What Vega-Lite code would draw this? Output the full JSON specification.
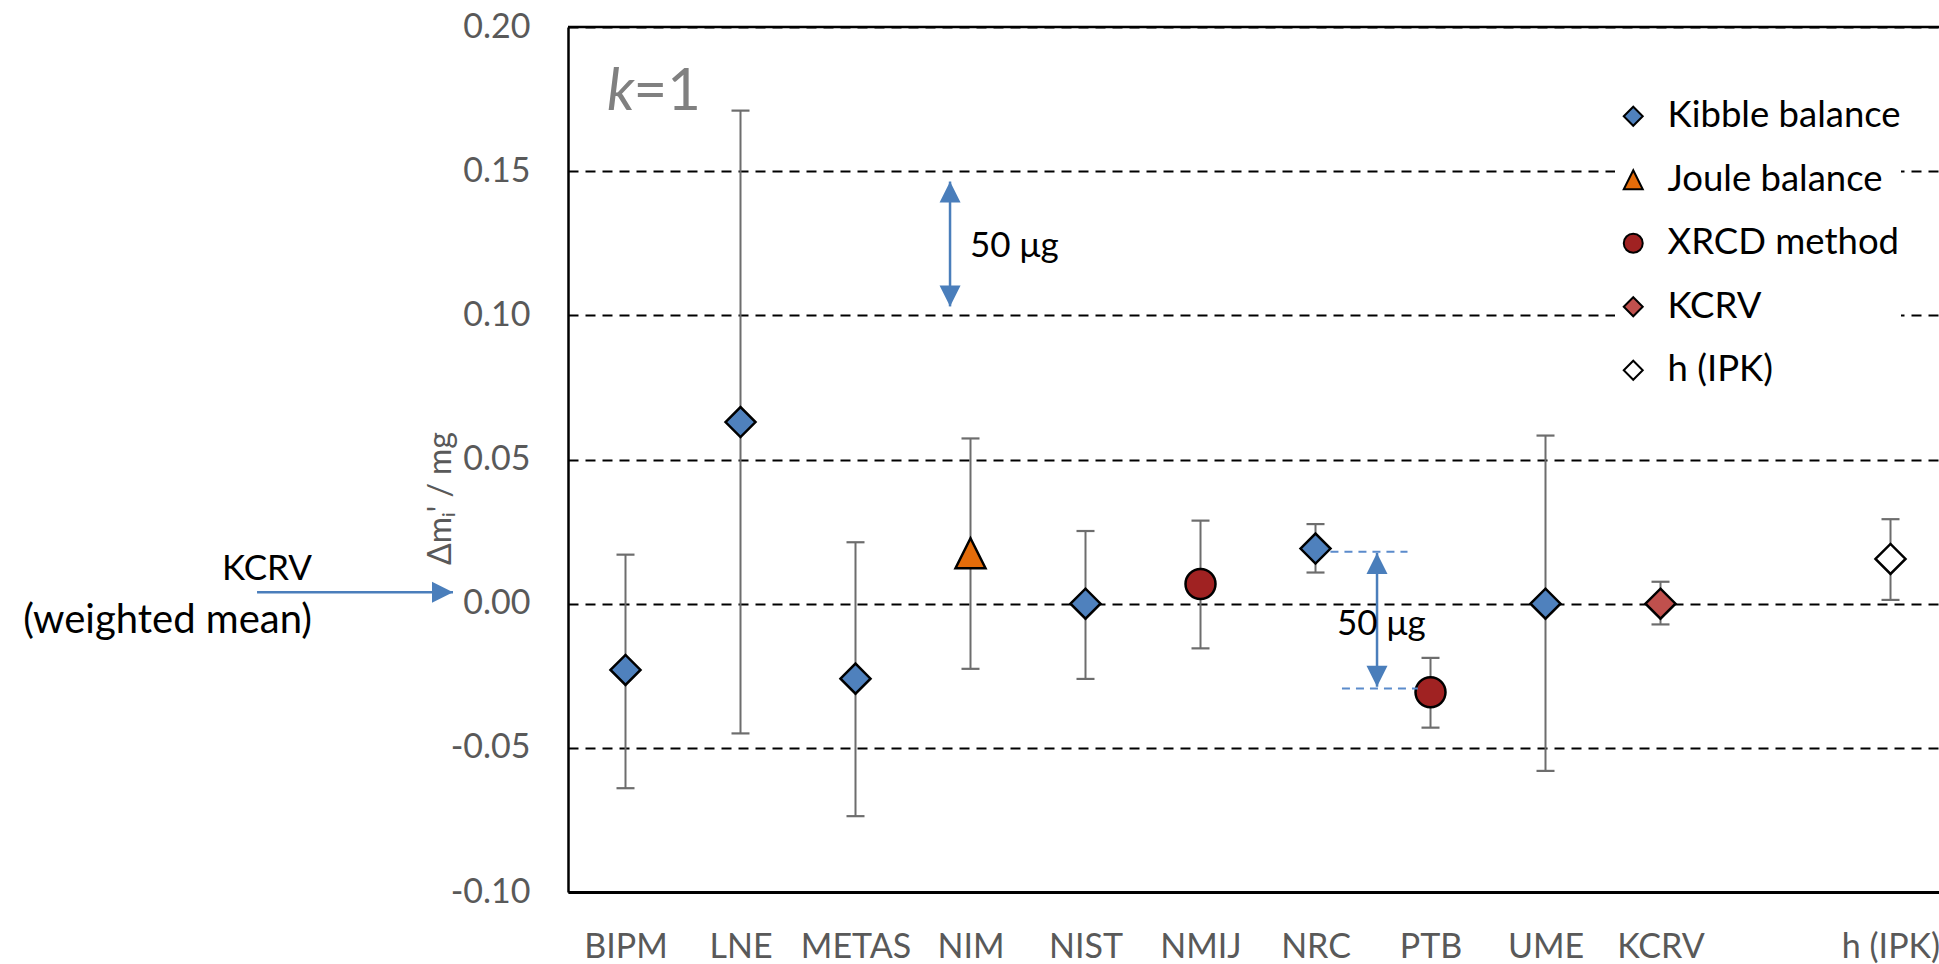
{
  "$schema": "https://vega.github.io/schema/vega-lite/v6.json",
  "width": 1371,
  "height": 865,
  "autosize": {"type": "none"},
  "padding": {"left": 568, "top": 27, "right": 0, "bottom": 72},
  "background": "white",
  "config": {
    "view": {"stroke": null},
    "font": "Lato",
    "legend": {
      "labelFont": "Lato",
      "labelFontSize": 36.5,
      "labelColor": "black",
      "symbolSize": 360,
      "symbolStrokeWidth": 2,
      "labelOffset": 16,
      "rowPadding": 26.5,
      "padding": 0,
      "fillColor": "white",
      "labelLimit": 400
    }
  },
  "datasets": {
    "pts": [
      {"lab": "BIPM", "idx": 0, "v": -0.023, "lo": -0.064, "hi": 0.017, "method": "Kibble balance"},
      {"lab": "LNE", "idx": 1, "v": 0.063, "lo": -0.045, "hi": 0.171, "method": "Kibble balance"},
      {"lab": "METAS", "idx": 2, "v": -0.026, "lo": -0.0737, "hi": 0.0213, "method": "Kibble balance"},
      {"lab": "NIM", "idx": 3, "v": 0.0175, "lo": -0.0226, "hi": 0.0573, "method": "Joule balance"},
      {"lab": "NIST", "idx": 4, "v": 0.0, "lo": -0.0261, "hi": 0.0252, "method": "Kibble balance"},
      {"lab": "NMIJ", "idx": 5, "v": 0.0068, "lo": -0.0155, "hi": 0.0288, "method": "XRCD method"},
      {"lab": "NRC", "idx": 6, "v": 0.0191, "lo": 0.0108, "hi": 0.0276, "method": "Kibble balance"},
      {"lab": "PTB", "idx": 7, "v": -0.0307, "lo": -0.043, "hi": -0.0188, "method": "XRCD method"},
      {"lab": "UME", "idx": 8, "v": 0.0, "lo": -0.058, "hi": 0.0583, "method": "Kibble balance"},
      {"lab": "KCRV", "idx": 9, "v": 0.0, "lo": -0.0072, "hi": 0.0076, "method": "KCRV"},
      {"lab": "h (IPK)", "idx": 11, "v": 0.0155, "lo": 0.0013, "hi": 0.0293, "method": "h (IPK)"}
    ],
    "vArrows": [
      {"idx": 2.822, "v": 0.1031, "v2": 0.1464},
      {"idx": 6.535, "v": -0.0288, "v2": 0.0176}
    ],
    "upHeads": [
      {"idx": 2.822, "v": 0.1464},
      {"idx": 6.535, "v": 0.0176}
    ],
    "downHeads": [
      {"idx": 2.822, "v": 0.1031},
      {"idx": 6.535, "v": -0.0288}
    ],
    "hArrow": [
      {"idx": -3.204, "idx2": -1.5, "v": 0.004}
    ],
    "dashes": [
      {"idx": 6.13, "idx2": 6.8, "v": 0.018},
      {"idx": 6.23, "idx2": 6.89, "v": -0.0294}
    ],
    "ugText": [
      {"idx": 2.996, "v": 0.1203, "t": "50 μg"},
      {"idx": 6.187, "v": -0.0109, "t": "50 μg"}
    ],
    "kcrvText": [
      {"idx": -2.726, "v": 0.0082, "t": "KCRV"}
    ],
    "wmText": [
      {"idx": -2.726, "v": -0.0102, "t": "(weighted mean)"}
    ],
    "kText": [
      {"idx": -0.161, "v": 0.1713, "t": "k"}
    ],
    "eqText": [
      {"idx": 0.07, "v": 0.1713, "t": "=1"}
    ]
  },
  "layer": [
    {
      "data": {"values": [{"b": 0.2}]},
      "mark": {"type": "rule", "color": "black", "strokeWidth": 2.5},
      "encoding": {
        "y": {"field": "b", "type": "quantitative", "scale": {"domain": [-0.1, 0.2], "nice": false, "zero": false}}
      }
    },
    {
      "data": {"name": "pts"},
      "mark": {"type": "rule", "color": "#6d6d6d", "strokeWidth": 2},
      "encoding": {
        "x": {"field": "idx", "type": "quantitative", "scale": {"domain": [-0.5, 11.4217], "nice": false, "zero": false}},
        "y": {"field": "lo", "type": "quantitative", "scale": {"domain": [-0.1, 0.2], "nice": false, "zero": false}},
        "y2": {"field": "hi"}
      }
    },
    {
      "data": {"name": "pts"},
      "transform": [{"fold": ["lo", "hi"], "as": ["k", "ev"]}],
      "mark": {"type": "tick", "orient": "horizontal", "color": "#6d6d6d", "size": 18, "thickness": 2.2, "opacity": 1},
      "encoding": {
        "x": {"field": "idx", "type": "quantitative", "scale": {"domain": [-0.5, 11.4217], "nice": false, "zero": false}},
        "y": {"field": "ev", "type": "quantitative", "scale": {"domain": [-0.1, 0.2], "nice": false, "zero": false}}
      }
    },
    {
      "data": {"name": "pts"},
      "mark": {"type": "point", "filled": true, "strokeWidth": 2.5, "opacity": 1, "size": 900},
      "encoding": {
        "x": {
          "field": "idx", "type": "quantitative",
          "scale": {"domain": [-0.5, 11.4217], "nice": false, "zero": false},
          "axis": {
            "title": null,
            "values": [0, 1, 2, 3, 4, 5, 6, 7, 8, 9, 11],
            "labelExpr": "['BIPM','LNE','METAS','NIM','NIST','NMIJ','NRC','PTB','UME','KCRV','','h (IPK)'][datum.value]",
            "grid": false, "ticks": false,
            "domain": true, "domainColor": "black", "domainWidth": 3,
            "labelFont": "Lato", "labelFontSize": 34, "labelColor": "#595959",
            "labelPadding": 38, "labelBaseline": "top",
            "labelFlush": false, "labelOverlap": false
          }
        },
        "y": {
          "field": "v", "type": "quantitative",
          "scale": {"domain": [-0.1, 0.2], "nice": false, "zero": false},
          "axis": {
            "title": "Δmᵢ' / mg",
            "values": [-0.1, -0.05, 0, 0.05, 0.1, 0.15, 0.2],
            "labelExpr": "replace(format(datum.value, '.2f'), '−', '-')",
            "grid": true, "gridDash": [10, 7], "gridColor": "black", "gridWidth": 2,
            "ticks": false,
            "domain": true, "domainColor": "black", "domainWidth": 2.5,
            "labelFont": "Lato", "labelFontSize": 34, "labelColor": "#595959",
            "labelPadding": 38, "labelFlush": false, "labelOverlap": false,
            "titleFont": "Lato", "titleFontSize": 32, "titleColor": "#595959", "titleFontWeight": "normal",
            "titleX": -128, "titleY": 471, "titleAngle": 270, "titleAlign": "center", "titleBaseline": "middle"
          }
        },
        "shape": {
          "field": "method", "type": "nominal",
          "scale": {
            "domain": ["Kibble balance", "Joule balance", "XRCD method", "KCRV", "h (IPK)"],
            "range": ["diamond", "M0,-1L1,1L-1,1Z", "circle", "diamond", "diamond"]
          },
          "legend": {"title": null, "orient": "none", "legendX": 1047, "legendY": 71}
        },
        "fill": {
          "field": "method", "type": "nominal",
          "scale": {
            "domain": ["Kibble balance", "Joule balance", "XRCD method", "KCRV", "h (IPK)"],
            "range": ["#4F81BD", "#E46C0A", "#A02222", "#C0504D", "#FFFFFF"]
          },
          "legend": {"title": null, "orient": "none", "legendX": 1047, "legendY": 71}
        },
        "stroke": {
          "field": "method", "type": "nominal",
          "scale": {
            "domain": ["Kibble balance", "Joule balance", "XRCD method", "KCRV", "h (IPK)"],
            "range": ["#000000", "#000000", "#000000", "#000000", "#000000"]
          },
          "legend": {"title": null, "orient": "none", "legendX": 1047, "legendY": 71}
        }
      }
    },
    {
      "data": {"name": "dashes"},
      "mark": {"type": "rule", "color": "#5B8BCB", "strokeWidth": 2, "strokeDash": [8, 6]},
      "encoding": {
        "x": {"field": "idx", "type": "quantitative", "scale": {"domain": [-0.5, 11.4217], "nice": false, "zero": false}},
        "x2": {"field": "idx2"},
        "y": {"field": "v", "type": "quantitative", "scale": {"domain": [-0.1, 0.2], "nice": false, "zero": false}}
      }
    },
    {
      "data": {"name": "vArrows"},
      "mark": {"type": "rule", "color": "#4A7EBB", "strokeWidth": 2.5},
      "encoding": {
        "x": {"field": "idx", "type": "quantitative", "scale": {"domain": [-0.5, 11.4217], "nice": false, "zero": false}},
        "y": {"field": "v", "type": "quantitative", "scale": {"domain": [-0.1, 0.2], "nice": false, "zero": false}},
        "y2": {"field": "v2"}
      }
    },
    {
      "data": {"name": "upHeads"},
      "mark": {"type": "point", "shape": "M0,0L1,2L-1,2Z", "size": 441, "filled": true, "color": "#4A7EBB", "opacity": 1, "strokeWidth": 0},
      "encoding": {
        "x": {"field": "idx", "type": "quantitative", "scale": {"domain": [-0.5, 11.4217], "nice": false, "zero": false}},
        "y": {"field": "v", "type": "quantitative", "scale": {"domain": [-0.1, 0.2], "nice": false, "zero": false}}
      }
    },
    {
      "data": {"name": "downHeads"},
      "mark": {"type": "point", "shape": "M0,0L1,-2L-1,-2Z", "size": 441, "filled": true, "color": "#4A7EBB", "opacity": 1, "strokeWidth": 0},
      "encoding": {
        "x": {"field": "idx", "type": "quantitative", "scale": {"domain": [-0.5, 11.4217], "nice": false, "zero": false}},
        "y": {"field": "v", "type": "quantitative", "scale": {"domain": [-0.1, 0.2], "nice": false, "zero": false}}
      }
    },
    {
      "data": {"name": "hArrow"},
      "mark": {"type": "rule", "color": "#4A7EBB", "strokeWidth": 2.5},
      "encoding": {
        "x": {"field": "idx", "type": "quantitative", "scale": {"domain": [-0.5, 11.4217], "nice": false, "zero": false}},
        "x2": {"field": "idx2"},
        "y": {"field": "v", "type": "quantitative", "scale": {"domain": [-0.1, 0.2], "nice": false, "zero": false}}
      }
    },
    {
      "data": {"name": "hArrow"},
      "mark": {"type": "point", "shape": "M0,0L-2,-1L-2,1Z", "size": 441, "filled": true, "color": "#4A7EBB", "opacity": 1, "strokeWidth": 0},
      "encoding": {
        "x": {"field": "idx2", "type": "quantitative", "scale": {"domain": [-0.5, 11.4217], "nice": false, "zero": false}},
        "y": {"field": "v", "type": "quantitative", "scale": {"domain": [-0.1, 0.2], "nice": false, "zero": false}}
      }
    },
    {
      "data": {"name": "ugText"},
      "mark": {"type": "text", "align": "left", "baseline": "alphabetic", "font": "Lato", "fontSize": 35, "color": "black"},
      "encoding": {
        "x": {"field": "idx", "type": "quantitative", "scale": {"domain": [-0.5, 11.4217], "nice": false, "zero": false}},
        "y": {"field": "v", "type": "quantitative", "scale": {"domain": [-0.1, 0.2], "nice": false, "zero": false}},
        "text": {"field": "t"}
      }
    },
    {
      "data": {"name": "kcrvText"},
      "mark": {"type": "text", "align": "right", "baseline": "alphabetic", "font": "Lato", "fontSize": 35, "color": "black"},
      "encoding": {
        "x": {"field": "idx", "type": "quantitative", "scale": {"domain": [-0.5, 11.4217], "nice": false, "zero": false}},
        "y": {"field": "v", "type": "quantitative", "scale": {"domain": [-0.1, 0.2], "nice": false, "zero": false}},
        "text": {"field": "t"}
      }
    },
    {
      "data": {"name": "wmText"},
      "mark": {"type": "text", "align": "right", "baseline": "alphabetic", "font": "Lato", "fontSize": 40, "color": "black"},
      "encoding": {
        "x": {"field": "idx", "type": "quantitative", "scale": {"domain": [-0.5, 11.4217], "nice": false, "zero": false}},
        "y": {"field": "v", "type": "quantitative", "scale": {"domain": [-0.1, 0.2], "nice": false, "zero": false}},
        "text": {"field": "t"}
      }
    },
    {
      "data": {"name": "kText"},
      "mark": {"type": "text", "align": "left", "baseline": "alphabetic", "font": "Lato", "fontSize": 58, "fontStyle": "italic", "color": "#808080"},
      "encoding": {
        "x": {"field": "idx", "type": "quantitative", "scale": {"domain": [-0.5, 11.4217], "nice": false, "zero": false}},
        "y": {"field": "v", "type": "quantitative", "scale": {"domain": [-0.1, 0.2], "nice": false, "zero": false}},
        "text": {"field": "t"}
      }
    },
    {
      "data": {"name": "eqText"},
      "mark": {"type": "text", "align": "left", "baseline": "alphabetic", "font": "Lato", "fontSize": 58, "color": "#808080"},
      "encoding": {
        "x": {"field": "idx", "type": "quantitative", "scale": {"domain": [-0.5, 11.4217], "nice": false, "zero": false}},
        "y": {"field": "v", "type": "quantitative", "scale": {"domain": [-0.1, 0.2], "nice": false, "zero": false}},
        "text": {"field": "t"}
      }
    }
  ]
}
